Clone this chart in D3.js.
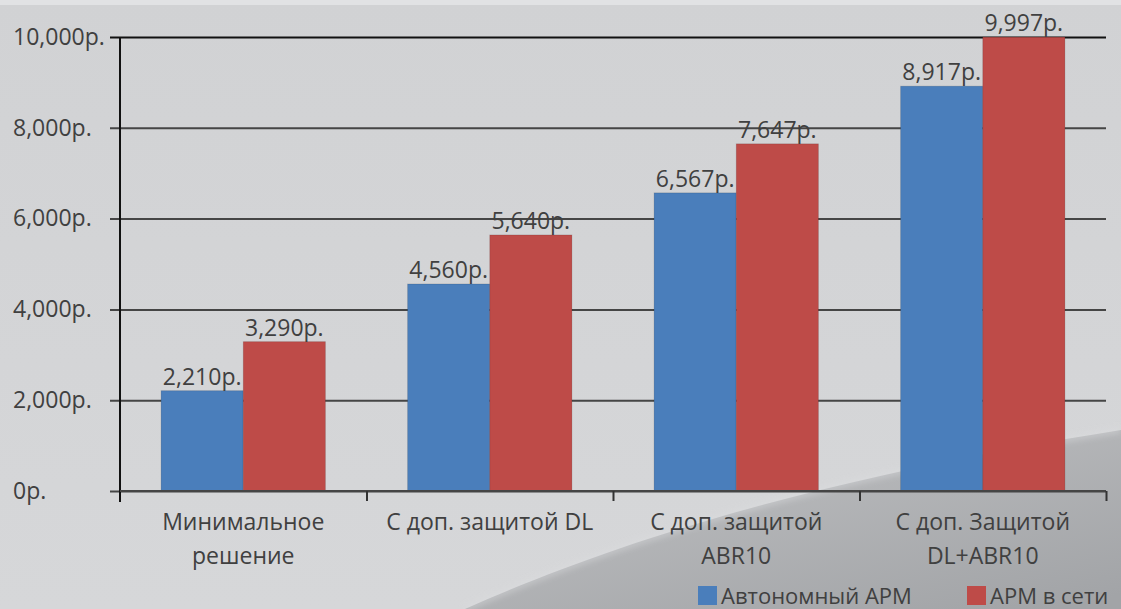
<!DOCTYPE html>
<html>
<head>
<meta charset="utf-8">
<script src="https://cdn.jsdelivr.net/npm/d3@7"></script>
<style>
  html, body { margin: 0; padding: 0; background: #d3d4d6; }
  svg { display: block; font-family: "Open Sans", sans-serif; }
</style>
</head>
<body>
<div id="chart"></div>
<script>
// data
var categories = [
  ["Минимальное", "решение"],
  ["С доп. защитой DL"],
  ["С доп. защитой", "ABR10"],
  ["С доп. Защитой", "DL+ABR10"]
];
var seriesNames = ["Автономный АРМ", "АРМ в сети"];
var autonomous = [2210, 4560, 6567, 8917];
var networked = [3290, 5640, 7647, 9997];
var yTicks = [0, 2000, 4000, 6000, 8000, 10000];

const WIDTH = 1121, HEIGHT = 609;
var margin = { top: 37, right: 15, bottom: 118, left: 120 },
  width = WIDTH - margin.left - margin.right,
  height = HEIGHT - margin.top - margin.bottom;

var colors = ["#4a7ebb", "#be4b48"];
var textColor = "#404040";
var fmt = function (v) { return d3.format(",")(v) + "р."; };

var svg = d3.select("#chart").append("svg")
  .attr("width", WIDTH)
  .attr("height", HEIGHT);

// background
var defs = svg.append("defs");
var bgGrad = defs.append("linearGradient").attr("id", "bg").attr("x1", 0).attr("y1", 0).attr("x2", 0).attr("y2", 1);
bgGrad.append("stop").attr("offset", "0").attr("stop-color", "#d1d2d4");
bgGrad.append("stop").attr("offset", "1").attr("stop-color", "#d6d7d9");
var swGrad = defs.append("linearGradient").attr("id", "swoosh").attr("x1", 0.1).attr("y1", 0).attr("x2", 0.9).attr("y2", 1);
swGrad.append("stop").attr("offset", "0").attr("stop-color", "#c0c1c3");
swGrad.append("stop").attr("offset", "1").attr("stop-color", "#a2a4a7");
defs.append("filter").attr("id", "soft").append("feGaussianBlur").attr("stdDeviation", 3);

svg.append("rect").attr("width", WIDTH).attr("height", HEIGHT).attr("fill", "url(#bg)");
svg.append("rect").attr("width", WIDTH).attr("height", 5).attr("fill", "#e1e2e4");
svg.append("path")
  .attr("d", "M465,609 C620,540 820,478 1121,430 L1121,609 Z")
  .attr("fill", "url(#swoosh)");
svg.append("path")
  .attr("d", "M465,609 C620,540 820,478 1121,430")
  .attr("fill", "none").attr("stroke", "#dcdddf").attr("stroke-width", 4)
  .attr("opacity", 0.7).attr("filter", "url(#soft)");

var g = svg.append("g").attr("transform", "translate(" + margin.left + "," + margin.top + ")");

// scales
var x0 = d3.scaleBand().domain(d3.range(categories.length)).range([0, width]);
var x1 = d3.scaleBand().domain([0, 1]).range([x0.bandwidth() / 6, x0.bandwidth() * 5 / 6]);
var y = d3.scaleLinear().domain([0, 10000]).range([height, 0]);

// y axis with gridlines
var yAxis = d3.axisLeft(y).tickValues(yTicks).tickFormat(fmt).tickSize(10);
g.append("g").attr("class", "y axis").call(yAxis)
  .call(function (a) {
    a.select(".domain").remove();
    a.selectAll(".tick line")
      .attr("x1", width)
      .attr("stroke", function (d) { return d === 10000 ? "#111" : "#454545"; })
      .attr("stroke-width", 2);
    a.selectAll(".tick text")
      .attr("x", 13 - margin.left)
      .attr("text-anchor", "start")
      .attr("font-size", 23)
      .attr("font-family", "Open Sans, sans-serif")
      .attr("fill", textColor);
  });

// bars
var data = categories.map(function (c, i) { return [autonomous[i], networked[i]]; });
var groups = g.selectAll(".grp").data(data).enter().append("g")
  .attr("transform", function (d, i) { return "translate(" + x0(i) + ",0)"; });
groups.selectAll("rect").data(function (d) { return d; }).enter().append("rect")
  .attr("x", function (d, j) { return x1(j); })
  .attr("width", x1.bandwidth())
  .attr("y", function (d) { return y(d); })
  .attr("height", function (d) { return height - y(d); })
  .attr("fill", function (d, j) { return colors[j]; })
  .attr("stroke", "rgba(0,0,0,0.12)").attr("stroke-width", 1);
groups.selectAll("text").data(function (d) { return d; }).enter().append("text")
  .attr("x", function (d, j) { return x1(j) + x1.bandwidth() / 2; })
  .attr("y", function (d) { return y(d) - 6; })
  .attr("text-anchor", "middle")
  .attr("font-size", 23)
  .attr("fill", textColor)
  .text(fmt);

// y axis line
g.append("line").attr("x1", 0).attr("x2", 0).attr("y1", 0).attr("y2", height + 11)
  .attr("stroke", "#111").attr("stroke-width", 2);

// x axis
var xAxis = d3.axisBottom(d3.scaleLinear().domain([0, categories.length]).range([0, width]))
  .tickValues(d3.range(1, categories.length + 1)).tickSize(10).tickFormat("");
g.append("g").attr("transform", "translate(0," + height + ")").call(xAxis)
  .call(function (a) {
    a.select(".domain").attr("stroke", "#454545").attr("stroke-width", 2)
      .attr("d", "M0,0H" + width);
    a.selectAll(".tick line").attr("stroke", "#333").attr("stroke-width", 2);
  });

// category labels
var cat = g.selectAll(".cat").data(categories).enter().append("text")
  .attr("x", function (d, i) { return x0(i) + x0.bandwidth() / 2; })
  .attr("y", height + 39)
  .attr("text-anchor", "middle")
  .attr("font-size", 23)
  .attr("fill", textColor);
cat.selectAll("tspan").data(function (d) { return d; }).enter().append("tspan")
  .attr("x", function () { return d3.select(this.parentNode).attr("x"); })
  .attr("dy", function (d, i) { return i === 0 ? 0 : 34; })
  .text(function (d) { return d; });

// legend
var legendX = [698, 967];
var legend = svg.selectAll(".legend").data(seriesNames).enter().append("g")
  .attr("transform", function (d, i) { return "translate(" + legendX[i] + ",586)"; });
legend.append("rect").attr("width", 19).attr("height", 19)
  .attr("fill", function (d, i) { return colors[i]; });
legend.append("text").attr("x", 23).attr("y", 18)
  .attr("font-size", 22).attr("fill", textColor)
  .text(function (d) { return d; });
</script>
</body>
</html>
